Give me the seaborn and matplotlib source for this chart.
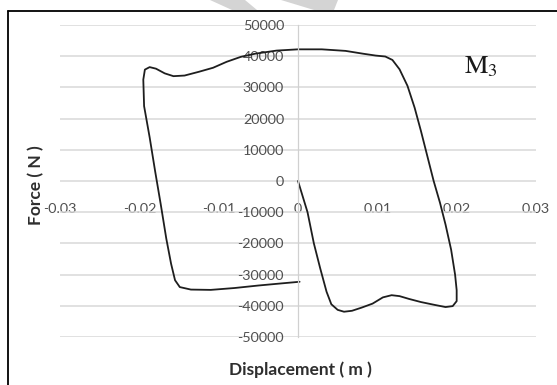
import matplotlib
matplotlib.use("Agg")
import matplotlib.pyplot as plt
from matplotlib.patches import Polygon
from matplotlib.lines import Line2D
import seaborn as sns
import pandas as pd

# Hysteresis loop: displacement (m) and force (N)
displacement = [
    0.0, 0.0006, 0.0012, 0.0020, 0.0028, 0.0036, 0.0042, 0.0050, 0.0058, 0.0068,
    0.0080, 0.0094, 0.0107, 0.0118, 0.0128, 0.0140, 0.0155, 0.0172, 0.0186, 0.0195,
    0.0200, 0.0200, 0.0198, 0.0193, 0.0186, 0.0179, 0.0171, 0.0163, 0.0155, 0.0147,
    0.0138, 0.0128, 0.0119, 0.0110, 0.0098, 0.0082, 0.0060, 0.0030, 0.0000, -0.0027,
    -0.0054, -0.0072, -0.0090, -0.0107, -0.0125, -0.0143, -0.0157, -0.0168, -0.0179, -0.0187,
    -0.0193, -0.0195, -0.0194, -0.0187, -0.0180, -0.0173, -0.0166, -0.0160, -0.0155, -0.0149,
    -0.0135, -0.0110, -0.0080, -0.0050, -0.0020, 0.0002,
]
force = [
    0, -5000, -10000, -20000, -28000, -35500, -39500, -41300, -41900, -41600,
    -40600, -39300, -37300, -36600, -36900, -37800, -38800, -39700, -40400, -40100,
    -38500, -35000, -30000, -22000, -14000, -7000, 0, 8000, 16000, 23500,
    30500, 35800, 38800, 39900, 40200, 40800, 41700, 42200, 42200, 41800,
    40800, 39800, 38200, 36300, 35000, 33800, 33600, 34500, 36000, 36500,
    35700, 32500, 24000, 14000, 3000, -7500, -18500, -26500, -31800, -34000,
    -34800, -34900, -34300, -33500, -32800, -32300,
]

x_ticks = [-0.03, -0.02, -0.01, 0, 0.01, 0.02, 0.03]
x_tick_labels = ["-0.03", "-0.02", "-0.01", "0", "0.01", "0.02", "0.03"]
y_ticks = [50000, 40000, 30000, 20000, 10000, 0, -10000, -20000, -30000, -40000, -50000]
y_tick_labels = [str(v) for v in y_ticks]

sns.set_theme(style="white")
plt.rcParams["font.family"] = ["Lato", "DejaVu Sans"]
plt.rcParams["mathtext.fontset"] = "stix"

W, H = 557, 385
fig = plt.figure(figsize=(W / 100, H / 100), dpi=100)
fig.patch.set_facecolor("white")
ax = fig.add_axes([60 / W, 1 - 337 / H, (536 - 60) / W, (337 - 25) / H])

df = pd.DataFrame({"disp": displacement, "force": force})
sns.lineplot(data=df, x="disp", y="force", sort=False, estimator=None,
             color="#1e1e1e", linewidth=1.3, ax=ax)

ax.set_xlim(-0.03, 0.03)
ax.set_ylim(-50000, 50000)
ax.set_xlabel("")
ax.set_ylabel("")

# horizontal gridlines
ax.yaxis.grid(True, color="#d9d9d9", linewidth=1.1)
ax.xaxis.grid(False)
ax.set_axisbelow(True)

# axes cross at the origin
for side in ("top", "right", "bottom"):
    ax.spines[side].set_visible(False)
ax.spines["left"].set_position(("data", 0))
ax.spines["left"].set_color("#d0d0d0")
ax.spines["left"].set_linewidth(0.9)
ax.spines["bottom"].set_position(("data", 0))

ax.set_xticks(x_ticks, x_tick_labels)
ax.set_yticks(y_ticks, y_tick_labels)
ax.tick_params(axis="x", length=0, pad=16, labelsize=10.4, labelcolor="#505050")
ax.tick_params(axis="y", length=0, pad=10, labelsize=10.4, labelcolor="#505050")

fig.text(300 / W, 1 - 370 / H, "Displacement ( m )", ha="center", va="center",
         fontsize=12.5, fontweight="bold", color="#2e2e2e")
fig.text(36.5 / W, 1 - 185 / H, "Force ( N )", ha="center", va="center",
         rotation=90, fontsize=12.5, fontweight="bold", color="#2e2e2e")

ax.text(0.0209, 34600, r"$\mathrm{M}_3$", fontsize=19, color="#1a1a1a",
        ha="left", va="baseline")

# outer frame (left and top edges)
fig.add_artist(Line2D([8 / W, 8 / W], [0, 1 - 10.5 / H], transform=fig.transFigure,
                      color="black", linewidth=1.3))
fig.add_artist(Line2D([8 / W, 1], [1 - 10.5 / H, 1 - 10.5 / H], transform=fig.transFigure,
                      color="black", linewidth=1.3))

# faint shapes above the frame
for pts in ([(210, 0), (245, 0), (257, 10), (232, 10)],
            [(281, 0), (338, 0), (334, 10), (314, 10)]):
    fig.add_artist(Polygon([(px / W, 1 - py / H) for px, py in pts], closed=True,
                           transform=fig.transFigure, facecolor="#d4d4d4",
                           edgecolor="none", zorder=0))

fig.savefig("out.png", dpi=100)
